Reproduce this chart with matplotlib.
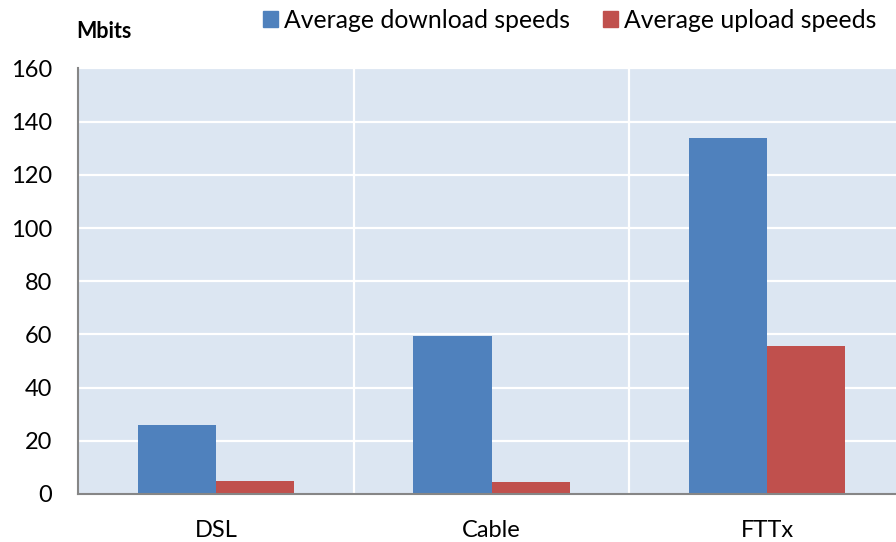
import matplotlib
matplotlib.use("Agg")
import matplotlib.pyplot as plt
import numpy as np
from matplotlib.patches import Patch

categories = ["DSL", "Cable", "FTTx"]
download = [26.0, 59.5, 134.0]
upload = [4.8, 4.5, 55.7]
yticks = [0, 20, 40, 60, 80, 100, 120, 140, 160]

plt.rcParams['font.family'] = ['Lato', 'DejaVu Sans']

W, H = 896, 542
fig = plt.figure(figsize=(W/100, H/100), dpi=100)
left_px, right_px, top_px, bot_px = 78, 905, 68.5, 494
ax = fig.add_axes([left_px/W, (H-bot_px)/H, (right_px-left_px)/W, (bot_px-top_px)/H])
ax.set_facecolor('#DCE6F2')

x = np.arange(len(categories))
bw = 0.283
ax.bar(x - bw/2, download, bw, color='#4F81BD', zorder=3)
ax.bar(x + bw/2, upload, bw, color='#C0504D', zorder=3)

ax.set_xlim(-0.5, 2.5)
ax.set_ylim(0, 160)
ax.set_yticks(yticks)
ax.set_yticklabels([str(v) for v in yticks], fontsize=17)
ax.set_xticks(x)
ax.set_xticklabels(categories, fontsize=17)
ax.tick_params(axis='both', length=0)
ax.tick_params(axis='y', pad=18.5)
ax.tick_params(axis='x', pad=18.5)

for v in yticks[1:]:
    ax.axhline(v, color='white', lw=1.6, zorder=1)
for b in [0.5, 1.5]:
    ax.axvline(b, color='white', lw=1.6, zorder=1)

for s in ['top', 'right']:
    ax.spines[s].set_visible(False)
for s in ['left', 'bottom']:
    ax.spines[s].set_color('#868686')
    ax.spines[s].set_linewidth(1.5)
    ax.spines[s].set_zorder(4)

fig.text(76/W, 1 - 31/H, "Mbits", fontsize=15.5, fontweight='bold', ha='left', va='center')

handles = [Patch(color='#4F81BD', label='Average download speeds'),
           Patch(color='#C0504D', label='Average upload speeds')]
fig.legend(handles=handles, loc='center left', bbox_to_anchor=(263/W, 1 - 20.5/H),
           ncol=2, frameon=False, fontsize=17.8, handlelength=0.6, handleheight=0.6,
           handletextpad=0.25, columnspacing=1.35, borderaxespad=0, borderpad=0)

fig.savefig("out.png", dpi=100)
